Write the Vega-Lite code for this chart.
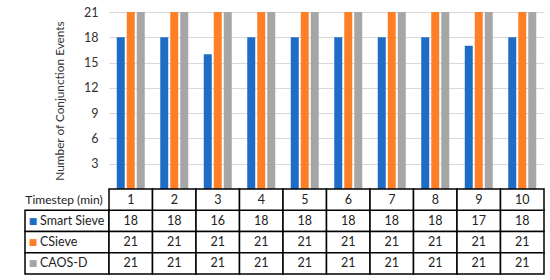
{
  "$schema": "https://vega.github.io/schema/vega-lite/v6.json",
  "padding": {"left": 24, "top": 6, "right": 5, "bottom": 5},
  "background": "white",
  "config": {
    "view": {"stroke": null},
    "font": "Lato",
    "text": {"font": "Lato"}
  },
  "data": {
    "values": [
      {"t": 1, "series": "Smart Sieve", "value": 18},
      {"t": 2, "series": "Smart Sieve", "value": 18},
      {"t": 3, "series": "Smart Sieve", "value": 16},
      {"t": 4, "series": "Smart Sieve", "value": 18},
      {"t": 5, "series": "Smart Sieve", "value": 18},
      {"t": 6, "series": "Smart Sieve", "value": 18},
      {"t": 7, "series": "Smart Sieve", "value": 18},
      {"t": 8, "series": "Smart Sieve", "value": 18},
      {"t": 9, "series": "Smart Sieve", "value": 17},
      {"t": 10, "series": "Smart Sieve", "value": 18},
      {"t": 1, "series": "CSieve", "value": 21},
      {"t": 2, "series": "CSieve", "value": 21},
      {"t": 3, "series": "CSieve", "value": 21},
      {"t": 4, "series": "CSieve", "value": 21},
      {"t": 5, "series": "CSieve", "value": 21},
      {"t": 6, "series": "CSieve", "value": 21},
      {"t": 7, "series": "CSieve", "value": 21},
      {"t": 8, "series": "CSieve", "value": 21},
      {"t": 9, "series": "CSieve", "value": 21},
      {"t": 10, "series": "CSieve", "value": 21},
      {"t": 1, "series": "CAOS-D", "value": 21},
      {"t": 2, "series": "CAOS-D", "value": 21},
      {"t": 3, "series": "CAOS-D", "value": 21},
      {"t": 4, "series": "CAOS-D", "value": 21},
      {"t": 5, "series": "CAOS-D", "value": 21},
      {"t": 6, "series": "CAOS-D", "value": 21},
      {"t": 7, "series": "CAOS-D", "value": 21},
      {"t": 8, "series": "CAOS-D", "value": 21},
      {"t": 9, "series": "CAOS-D", "value": 21},
      {"t": 10, "series": "CAOS-D", "value": 21}
    ]
  },
  "columns": 2,
  "spacing": 0,
  "bounds": "flush",
  "concat": [
    {
      "width": 84,
      "height": 177,
      "data": {"values": []},
      "mark": "point",
      "encoding": {}
    },
    {
      "width": 435,
      "height": 177,
      "mark": {"type": "bar"},
      "encoding": {
        "x": {"field": "t", "type": "ordinal", "scale": {"paddingInner": 0, "paddingOuter": 0}, "axis": null},
        "xOffset": {"field": "series", "type": "nominal", "sort": ["Smart Sieve", "CSieve", "CAOS-D"], "scale": {"paddingInner": 0.2, "paddingOuter": 0.775}},
        "y": {
          "field": "value", "type": "quantitative",
          "scale": {"domain": [0, 21], "nice": false},
          "axis": {
            "values": [3, 6, 9, 12, 15, 18, 21],
            "title": "Number of Conjunction Events",
            "domain": false, "ticks": false,
            "labelPadding": 11, "labelFontSize": 12.5, "labelColor": "#333333", "labelFont": "Lato",
            "gridColor": "#D9D9D9",
            "titleFontSize": 11.8, "titleFontWeight": "normal", "titleColor": "#333333", "titleFont": "Lato",
            "titlePadding": 18
          }
        },
        "color": {
          "field": "series", "type": "nominal",
          "scale": {"domain": ["Smart Sieve", "CSieve", "CAOS-D"], "range": ["#1F6CC6", "#FF7F27", "#A6A6A6"]},
          "legend": null
        }
      }
    },
    {
      "width": 84,
      "height": 85,
      "layer": [
        {
          "transform": [{"filter": "datum.t == 1"}],
          "mark": {"type": "rect", "fill": "white", "stroke": "black", "strokeWidth": 1.5},
          "encoding": {
            "y": {"field": "series", "type": "nominal", "scale": {"domain": ["Timestep (min)", "Smart Sieve", "CSieve", "CAOS-D"], "paddingInner": 0, "paddingOuter": 0}, "axis": null}
          }
        },
        {
          "transform": [{"filter": "datum.t == 1"}],
          "mark": {"type": "text", "text": "■", "font": "DejaVu Sans", "fontSize": 9, "align": "center", "dx": -34},
          "encoding": {
            "y": {"field": "series", "type": "nominal"},
            "color": {"field": "series", "type": "nominal", "legend": null}
          }
        },
        {
          "transform": [{"filter": "datum.t == 1"}],
          "mark": {"type": "text", "fontSize": 12.5, "align": "left", "dx": -27, "color": "#222222"},
          "encoding": {
            "y": {"field": "series", "type": "nominal"},
            "text": {"field": "series"}
          }
        },
        {
          "data": {"values": [{"label": "Timestep (min)"}]},
          "mark": {"type": "text", "fontSize": 12, "align": "center", "dx": -3, "color": "#222222"},
          "encoding": {
            "y": {"field": "label", "type": "nominal"},
            "text": {"field": "label"}
          }
        }
      ]
    },
    {
      "width": 435,
      "height": 85,
      "encoding": {
        "x": {"field": "t", "type": "ordinal", "scale": {"paddingInner": 0, "paddingOuter": 0}, "axis": null}
      },
      "layer": [
        {
          "mark": {"type": "rect", "fill": "white", "stroke": "black", "strokeWidth": 1.5},
          "encoding": {
            "y": {"field": "series", "type": "nominal", "scale": {"domain": ["Timestep (min)", "Smart Sieve", "CSieve", "CAOS-D"], "paddingInner": 0, "paddingOuter": 0}, "axis": null}
          }
        },
        {
          "transform": [{"filter": "datum.series == 'Smart Sieve'"}],
          "mark": {"type": "rect", "fill": "white", "stroke": "black", "strokeWidth": 1.5},
          "encoding": {
            "y": {"datum": "Timestep (min)", "type": "nominal"}
          }
        },
        {
          "mark": {"type": "text", "fontSize": 12.5, "color": "#222222"},
          "encoding": {
            "y": {"field": "series", "type": "nominal"},
            "text": {"field": "value"}
          }
        },
        {
          "transform": [{"filter": "datum.series == 'Smart Sieve'"}],
          "mark": {"type": "text", "fontSize": 12.5, "color": "#222222"},
          "encoding": {
            "y": {"datum": "Timestep (min)", "type": "nominal"},
            "text": {"field": "t"}
          }
        }
      ]
    }
  ]
}
